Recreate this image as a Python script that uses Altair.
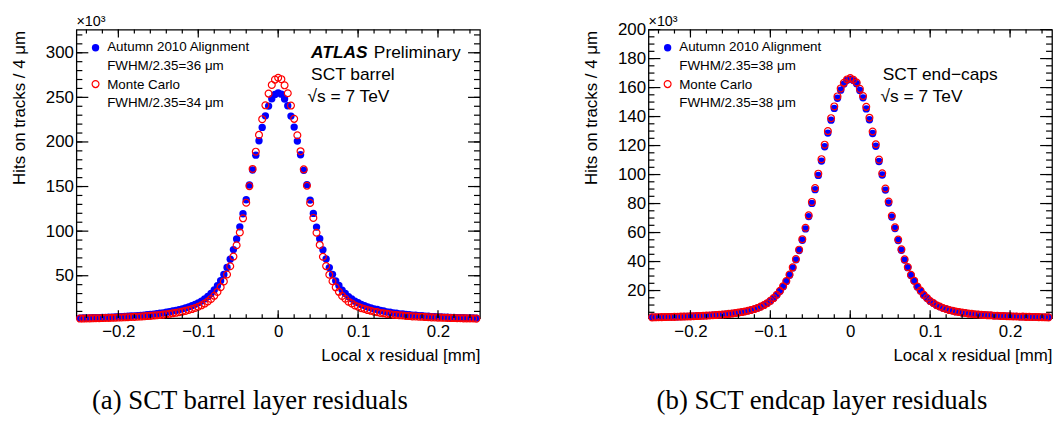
import altair as alt
import pandas as pd

# ---------------- data ----------------
residual_mm = [round(-0.248 + 0.004 * i, 3) for i in range(125)]  # 4 um bin centres

barrel_data = [
    2.45, 2.55, 2.65, 2.8, 2.9, 3.0, 3.1, 3.2, 3.35, 3.5,
    3.65, 3.8, 4.0, 4.2, 4.3, 4.6, 4.8, 5.0, 5.3, 5.6,
    5.9, 6.2, 6.6, 7.0, 7.4, 7.9, 8.4, 9.0, 9.6, 10.4,
    11.1, 12.0, 12.9, 13.9, 15.1, 16.4, 17.9, 19.6, 21.6, 24.0,
    26.8, 30.1, 34.1, 38.9, 44.5, 51.4, 59.3, 68.5, 79.3, 91.3,
    104.8, 119.5, 135.2, 151.7, 168.6, 185.2, 201.4, 216.3, 229.3, 240.2,
    248.4, 253.3,
    255.0,
    253.6, 248.1, 240.6, 229.0, 216.7, 201.0, 185.6, 168.2, 152.1, 134.8,
    119.9, 104.5, 91.6, 79.0, 68.8, 59.1, 51.6, 44.3, 39.1, 33.9,
    30.2, 26.6, 24.1, 21.5, 19.7, 17.8, 16.5, 15.0, 14.0, 12.8,
    12.1, 11.0, 10.5, 9.5, 9.1, 8.3, 8.0, 7.3, 7.1, 6.5,
    6.3, 5.8, 5.7, 5.2, 5.1, 4.7, 4.6, 4.2, 4.2, 3.9,
    3.85, 3.6, 3.5, 3.3, 3.25, 3.05, 3.0, 2.85, 2.8, 2.6,
    2.55, 2.4,
]
barrel_mc = [
    1.95, 2.0, 2.1, 2.15, 2.25, 2.3, 2.4, 2.5, 2.6, 2.7,
    2.85, 2.95, 3.1, 3.2, 3.35, 3.5, 3.7, 3.85, 4.05, 4.25,
    4.5, 4.75, 5.0, 5.35, 5.65, 6.0, 6.4, 6.85, 7.3, 7.85,
    8.4, 9.1, 9.8, 10.6, 11.6, 12.6, 13.8, 15.2, 16.8, 18.8,
    21.1, 24.0, 27.5, 31.8, 37.2, 43.6, 51.4, 60.6, 71.5, 84.2,
    98.5, 114.4, 131.9, 150.5, 169.7, 189.1, 207.9, 225.5, 241.1, 254.2,
    263.9, 269.9,
    272.0,
    270.4, 263.5, 254.6, 240.8, 225.9, 207.5, 189.6, 169.3, 150.9, 131.6,
    114.8, 98.2, 84.5, 71.3, 60.8, 51.2, 43.8, 37.0, 32.0, 27.3,
    24.2, 20.9, 18.9, 16.7, 15.3, 13.7, 12.7, 11.5, 10.7, 9.7,
    9.2, 8.3, 7.9, 7.2, 6.9, 6.3, 6.05, 5.6, 5.4, 4.95,
    4.8, 4.45, 4.3, 4.0, 3.9, 3.65, 3.55, 3.3, 3.25, 3.05,
    3.0, 2.8, 2.75, 2.55, 2.55, 2.35, 2.35, 2.2, 2.2, 2.05,
    2.05, 1.9,
]
endcap_data = [
    1.55, 1.6, 1.6, 1.65, 1.7, 1.8, 1.85, 1.9, 1.95, 2.05,
    2.1, 2.2, 2.25, 2.35, 2.45, 2.55, 2.65, 2.75, 2.85, 3.0,
    3.15, 3.3, 3.5, 3.65, 3.9, 4.15, 4.45, 4.75, 5.1, 5.5,
    6.0, 6.55, 7.2, 7.95, 8.85, 9.9, 11.2, 12.8, 14.6, 16.9,
    19.5, 22.7, 26.3, 30.6, 35.6, 41.2, 47.6, 54.7, 62.5, 71.0,
    80.1, 89.6, 99.4, 109.3, 119.2, 128.6, 137.5, 145.6, 152.6, 158.2,
    162.4, 165.0,
    165.8,
    164.8, 162.6, 158.0, 152.9, 145.3, 137.8, 128.3, 119.5, 109.0, 99.7,
    89.3, 80.4, 70.7, 62.8, 54.5, 47.8, 41.0, 35.8, 30.4, 26.5,
    22.5, 19.7, 16.8, 14.7, 12.7, 11.3, 9.8, 8.9, 7.9, 7.25,
    6.5, 6.05, 5.45, 5.15, 4.7, 4.5, 4.1, 3.95, 3.6, 3.55,
    3.25, 3.2, 2.95, 2.9, 2.7, 2.7, 2.5, 2.5, 2.3, 2.3,
    2.15, 2.15, 2.0, 2.0, 1.85, 1.85, 1.75, 1.75, 1.6, 1.65,
    1.55, 1.55,
]
endcap_mc = [
    1.5, 1.55, 1.6, 1.65, 1.7, 1.75, 1.8, 1.85, 1.95, 2.0,
    2.05, 2.15, 2.2, 2.3, 2.4, 2.5, 2.6, 2.7, 2.85, 2.95,
    3.1, 3.3, 3.45, 3.65, 3.9, 4.15, 4.45, 4.8, 5.15, 5.55,
    6.05, 6.6, 7.25, 8.0, 8.9, 10.0, 11.3, 12.9, 14.8, 17.1,
    19.8, 23.0, 26.6, 31.0, 36.0, 41.7, 48.2, 55.4, 63.3, 71.9,
    81.1, 90.7, 100.6, 110.6, 120.6, 130.0, 138.9, 147.0, 153.9, 159.4,
    163.3, 165.6,
    166.5,
    165.4, 163.5, 159.1, 154.2, 146.7, 139.2, 129.7, 120.9, 110.3, 100.9,
    90.4, 81.4, 71.6, 63.6, 55.2, 48.4, 41.5, 36.2, 30.8, 26.8,
    22.8, 20.0, 17.0, 14.9, 12.8, 11.4, 9.9, 9.0, 7.95, 7.3,
    6.55, 6.1, 5.5, 5.2, 4.75, 4.5, 4.1, 3.95, 3.6, 3.5,
    3.25, 3.15, 2.9, 2.9, 2.65, 2.65, 2.45, 2.45, 2.3, 2.25,
    2.1, 2.1, 1.95, 2.0, 1.85, 1.85, 1.75, 1.75, 1.65, 1.6,
    1.55, 1.5,
]

x_major = [-0.2, -0.1, 0.0, 0.1, 0.2]
x_minor = [round(-0.24 + 0.02 * i, 2) for i in range(25)]
barrel_y_major = [50, 100, 150, 200, 250, 300]
barrel_y_minor = list(range(10, 330, 10))
endcap_y_major = [20, 40, 60, 80, 100, 120, 140, 160, 180, 200]
endcap_y_minor = list(range(5, 205, 5))

FONT = "Liberation Sans"
W, H = 407, 291
BLUE = "#0000ff"
RED = "#ff0000"


def one():
    return alt.Chart(pd.DataFrame({"k": [0]}))


def txt(s, x, y, size=13.5, align="left", font=FONT, weight="normal", style="normal",
        baseline="middle"):
    return one().mark_text(
        text=s, align=align, baseline=baseline, fontSize=size, font=font,
        fontWeight=weight, fontStyle=style, color="black",
    ).encode(x=alt.value(x), y=alt.value(y))


def panel(data_vals, mc_vals, ydom, ymaj, ymin, fwhm_data, fwhm_mc, info, caption):
    df = pd.DataFrame({"x": residual_mm, "data": data_vals, "mc": mc_vals})
    xs = alt.Scale(domain=[-0.2525, 0.2525], nice=False, zero=False)
    ys = alt.Scale(domain=ydom, nice=False, zero=False)
    base = alt.Chart(df)

    ax_bottom = alt.Axis(
        orient="bottom", values=x_major, format=".1~f", ticks=False,
        domain=False, grid=False, labelFontSize=17, labelPadding=6,
        labelFlush=False, labelOverlap=False, title="Local x residual [mm]",
        titleFontSize=17, titleFontWeight="normal", titleAnchor="end",
        titleAlign="right", titleBaseline="middle", titleX=W, titleY=38,
    )
    ax_left = alt.Axis(
        orient="left", values=ymaj, format="d", ticks=False,
        domain=False, grid=False, labelFontSize=17, labelPadding=3,
        labelFlush=False, labelOverlap=False, title="Hits on tracks / 4 μm",
        titleFontSize=17, titleFontWeight="normal", titleAnchor="end",
        titleAlign="right", titleBaseline="middle", titleAngle=270,
        titleX=-57, titleY=1,
    )

    blue = base.mark_point(filled=True, shape="circle", size=55, color=BLUE, opacity=1).encode(
        x=alt.X("x:Q", scale=xs, axis=ax_bottom),
        y=alt.Y("data:Q", scale=ys, axis=ax_left),
    )
    red = base.mark_point(filled=False, shape="circle", size=48, color=RED,
                          strokeWidth=1.2, opacity=1).encode(
        x=alt.X("x:Q", scale=xs, axis=None),
        y=alt.Y("mc:Q", scale=ys, axis=None),
    )

    # inward tick marks on all four sides, placed through the scales
    def xticks(vals, length):
        d = alt.Chart(pd.DataFrame({"v": vals}))
        bot = d.mark_rule(color="black", strokeWidth=1.2).encode(
            x=alt.X("v:Q", scale=xs, axis=None), y=alt.value(H), y2=alt.value(H - length))
        top = d.mark_rule(color="black", strokeWidth=1.2).encode(
            x=alt.X("v:Q", scale=xs, axis=None), y=alt.value(0), y2=alt.value(length))
        return [bot, top]

    def yticks(vals, length):
        d = alt.Chart(pd.DataFrame({"v": vals}))
        lft = d.mark_rule(color="black", strokeWidth=1.2).encode(
            y=alt.Y("v:Q", scale=ys, axis=None), x=alt.value(0), x2=alt.value(length))
        rgt = d.mark_rule(color="black", strokeWidth=1.2).encode(
            y=alt.Y("v:Q", scale=ys, axis=None), x=alt.value(W - length), x2=alt.value(W))
        return [lft, rgt]

    ticks = xticks(x_major, 8) + xticks(x_minor, 4) + yticks(ymaj, 12) + yticks(ymin, 6)

    leg_blue = one().mark_point(filled=True, shape="circle", size=55, color=BLUE,
                                opacity=1).encode(x=alt.value(19.3), y=alt.value(18.3))
    leg_red = one().mark_point(filled=False, shape="circle", size=48, color=RED,
                               strokeWidth=1.2, opacity=1).encode(x=alt.value(19.3), y=alt.value(55))
    texts = [
        txt("×10³", 0, -8, size=14.5),
        txt("Autumn 2010 Alignment", 31, 18),
        txt(f"FWHM/2.35={fwhm_data} μm", 31, 37),
        txt("Monte Carlo", 31, 56),
        txt(f"FWHM/2.35={fwhm_mc} μm", 31, 74),
        txt(caption, 175, 383, size=27, align="center", font="Liberation Serif",
            baseline="alphabetic"),
    ]
    texts += info

    layers = [blue, red] + ticks + [leg_blue, leg_red] + texts
    return alt.layer(*layers).resolve_axis(x="independent", y="independent").properties(
        width=W, height=H
    )


left_info = [
    txt("ATLAS", 236.7, 24, size=17.5, weight="bold", style="italic"),
    txt("Preliminary", 300, 24, size=17.5),
    txt("SCT barrel", 236.7, 45.7, size=17.5),
    txt("√s = 7 TeV", 233, 68.3, size=17.5),
]
right_info = [
    txt("SCT end−caps", 236.3, 45.7, size=17.5),
    txt("√s = 7 TeV", 234, 68.3, size=17.5),
]

left = panel(barrel_data, barrel_mc, [2.5, 326], barrel_y_major, barrel_y_minor,
             36, 34, left_info, "(a) SCT barrel layer residuals")
right = panel(endcap_data, endcap_mc, [1, 200], endcap_y_major, endcap_y_minor,
              38, 38, right_info, "(b) SCT endcap layer residuals")

chart = alt.hconcat(left, right, spacing=170, bounds="flush").properties(
    padding={"left": 2, "top": 3, "right": 0, "bottom": 0}
).configure(font=FONT).configure_view(
    stroke="black", strokeWidth=1.3
).configure_axis(
    labelFont=FONT, titleFont=FONT, labelColor="black", titleColor="black",
)

chart.save("out.html", embed_options={"renderer": "svg", "actions": False})
